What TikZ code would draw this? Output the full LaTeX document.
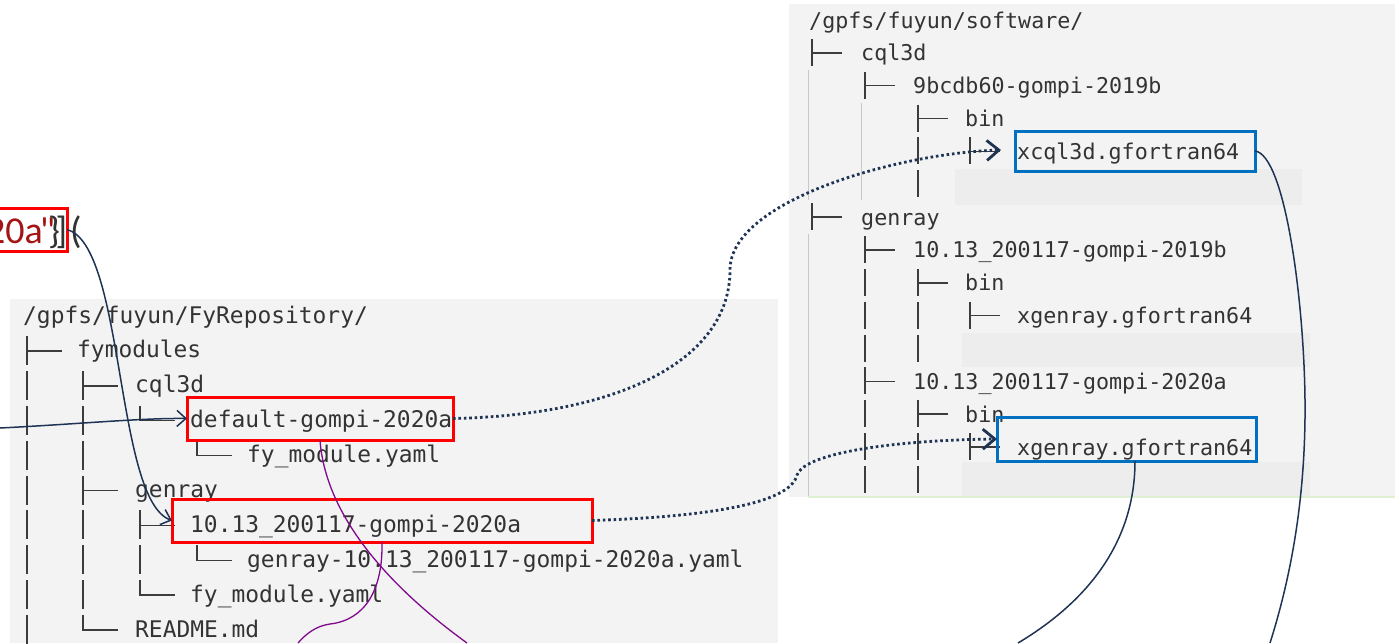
\documentclass[tikz,border=0pt]{standalone}
\usepackage{fontspec}
\newfontfamily\monof{DejaVu Sans Mono}
\newfontfamily\calf{Carlito}
\usetikzlibrary{arrows.meta}
\definecolor{txt}{RGB}{51,51,51}
\definecolor{treec}{RGB}{60,60,60}
\definecolor{panel}{RGB}{243,243,243}
\definecolor{band}{RGB}{237,237,237}
\definecolor{guide}{RGB}{200,200,200}
\definecolor{navy}{RGB}{31,52,84}
\definecolor{purp}{RGB}{128,10,140}
\definecolor{redb}{RGB}{255,0,0}
\definecolor{blueb}{RGB}{0,112,192}
\definecolor{strred}{RGB}{163,21,21}
\definecolor{lgreen}{RGB}{222,240,210}
\newcommand\LV[2]{\draw[tline] (#1,#2-15) -- (#1,#2+14);}
\newcommand\LT[2]{\draw[tline] (#1,#2-15) -- (#1,#2+14) (#1,#2) -- ++(35,0);}
\newcommand\LL[2]{\draw[tline] (#1,#2-15) -- (#1,#2) -- ++(35,0);}
\newcommand\RV[2]{\draw[tline] (#1,#2-14) -- (#1,#2+13);}
\newcommand\RT[2]{\draw[tline] (#1,#2-14) -- (#1,#2+13) (#1,#2) -- ++(30,0);}
\begin{document}
\begin{tikzpicture}[x=1pt,y=-1pt,
  ltxt/.style={anchor=base west, inner sep=0pt, text=txt, font={\monof\fontsize{22.9}{27}\selectfont}},
  rtxt/.style={anchor=base west, inner sep=0pt, text=txt, font={\monof\fontsize{21.7}{26}\selectfont}},
  ctxt/.style={anchor=base, inner sep=0pt, text=txt, font={\calf\fontsize{38}{40}\selectfont}},
  tline/.style={draw=treec, line width=1.5pt},
  gline/.style={draw=guide, line width=1pt},
  redbox/.style={draw=redb, line width=3pt, inner sep=0pt, outer sep=0pt},
  bluebox/.style={draw=blueb, line width=3pt, inner sep=0pt, outer sep=0pt},
  navyline/.style={draw=navy, line width=1.5pt},
  dotline/.style={draw=navy, line width=2.8pt, dash pattern=on 2.6pt off 2.8pt},
  purpline/.style={draw=purp, line width=1.3pt},
  barb/.style={-{Straight Barb[length=9pt,width=16pt]}},
  bigbarb/.style={-{Straight Barb[length=12pt,width=20pt]}}
]
\useasboundingbox (0,0) rectangle (1395,643);
\fill[white] (0,0) rectangle (1395,643);
% panels
\fill[panel] (10,299) rectangle (778,643);
\fill[panel] (789,4) rectangle (1395,497);
\fill[band] (955,169) rectangle (1302,205);
\fill[band] (962,333) rectangle (1310,367);
\fill[band] (962,462) rectangle (1310,496);
\draw[lgreen, line width=2pt] (808,497) -- (1395,497);
% guides right
\draw[gline] (808,70) -- (808,200);
\draw[gline] (808,234) -- (808,496);
\draw[gline] (861,103) -- (861,200);

% ---------- left tree ----------
\node[ltxt] (l0) at (23,323) {/gpfs/fuyun/FyRepository/};
\LT{27}{350.9}
\node[ltxt] (l1) at (77,357.9) {fymodules};
\LV{27}{385.8} \LT{83}{385.8}
\node[ltxt] (l2) at (135,392.8) {cql3d};
\LV{27}{420.7} \LV{83}{420.7} \LL{140}{420.7}
\node[ltxt] (l3) at (190,427.7) {default-gompi-2020a};
\LV{27}{455.6} \LV{83}{455.6} \LL{197}{455.6}
\node[ltxt] (l4) at (247,462.6) {fy\_module.yaml};
\LV{27}{490.5} \LT{83}{490.5}
\node[ltxt] (l5) at (135,497.5) {genray};
\LV{27}{525.4} \LV{83}{525.4} \LT{140}{525.4}
\node[ltxt] (l6) at (190,532.4) {10.13\_200117-gompi-2020a};
\LV{27}{560.3} \LV{83}{560.3} \LV{140}{560.3} \LL{197}{560.3}
\node[ltxt] (l7) at (247,567.3) {genray-10.13\_200117-gompi-2020a.yaml};
\LV{27}{595.2} \LV{83}{595.2} \LL{140}{595.2}
\node[ltxt] (l8) at (190,602.2) {fy\_module.yaml};
\LV{27}{630.1} \LL{83}{630.1}
\node[ltxt] (l9) at (135,637.1) {README.md};

% ---------- right tree ----------
\node[rtxt] (r0) at (809,28) {/gpfs/fuyun/software/};
\RT{812}{52.85}
\node[rtxt] (r1) at (861,60.85) {cql3d};
\RT{865}{85.7}
\node[rtxt] (r2) at (913,93.7) {9bcdb60-gompi-2019b};
\RT{918}{118.55}
\node[rtxt] (r3) at (965,126.55) {bin};
\RV{918}{151.4} \RT{970}{151.4}
\node[rtxt] (r4) at (1017,159.4) {xcql3d.gfortran64};
\RV{918}{184.25}
\RT{812}{217.1}
\node[rtxt] (r6) at (861,225.1) {genray};
\RT{865}{249.95}
\node[rtxt] (r7) at (913,257.95) {10.13\_200117-gompi-2019b};
\RV{865}{282.8} \RT{918}{282.8}
\node[rtxt] (r8) at (965,290.8) {bin};
\RV{865}{315.65} \RV{918}{315.65} \RT{970}{315.65}
\node[rtxt] (r9) at (1017,323.65) {xgenray.gfortran64};
\RV{865}{348.5} \RV{918}{348.5}
\RT{865}{381.35}
\node[rtxt] (r11) at (913,389.35) {10.13\_200117-gompi-2020a};
\RV{865}{414.2} \RT{918}{414.2}
\node[rtxt] (r12) at (965,422.2) {bin};
\RV{865}{447.05} \RV{918}{447.05} \RT{970}{447.05}
\node[rtxt] (r13) at (1017,455.05) {xgenray.gfortran64};
\RV{865}{479.9} \RV{918}{479.9}

% ---------- top-left code fragment ----------
\node[ctxt, anchor=base east, text=strred] (c1) at (43,243) {20a};
\node[ctxt, text=strred] (c2) at (47.5,243) {"};
\node[ctxt] (c3) at (54,243) {\}};
\node[ctxt] (c4) at (61.5,243) {]};
\node[ctxt] (c5) at (76,243) {(};

% ---------- boxes ----------
\node[redbox, minimum width=87pt, minimum height=43pt] (topbox) at (23.5,229.5) {};
\node[redbox, minimum width=266pt, minimum height=43pt] (defbox) at (320,418.5) {};
\node[redbox, minimum width=420pt, minimum height=43pt] (tenbox) at (382,520.5) {};
\node[bluebox, minimum width=240pt, minimum height=40pt] (xcbox) at (1135,151) {};
\node[bluebox, minimum width=259pt, minimum height=44pt] (xgbox) at (1126.5,439) {};

% free ends
\coordinate (lin) at (0,428);
\coordinate (cA) at (1270,643);
\coordinate (cB) at (1018,643);
\coordinate (cP1) at (467,643);
\coordinate (cP2) at (298,643);

% ---------- connectors ----------
\draw[navyline, barb] (topbox.east) .. controls (125,245) and (115,500) .. (tenbox.west);
\draw[navyline, barb] (lin) .. controls (80,424) and (140,418) .. (defbox.west);
\draw[dotline, bigbarb] (defbox.east) .. controls (620,415) and (730,360) .. (730,270)
   .. controls (730,200) and (900,153) .. ([xshift=-14pt,yshift=1pt]xcbox.west);
\draw[dotline, bigbarb] (tenbox.east) .. controls (700,517) and (790,505) .. (797,475)
   .. controls (805,452) and (900,440) .. (xgbox.west);
\draw[navyline] (xcbox.east) .. controls (1285,155) and (1304,300) .. (1305,400)
   .. controls (1306,500) and (1290,580) .. (cA);
\draw[navyline] ([xshift=8.5pt]xgbox.south) .. controls (1135,540) and (1090,600) .. (cB);
\draw[purpline] (defbox.south) .. controls (325,510) and (380,580) .. (cP1);
\draw[purpline] (tenbox.south) .. controls (383,590) and (365,620) .. (330,624)
   .. controls (315,626) and (305,635) .. (cP2);
\end{tikzpicture}
\end{document}
